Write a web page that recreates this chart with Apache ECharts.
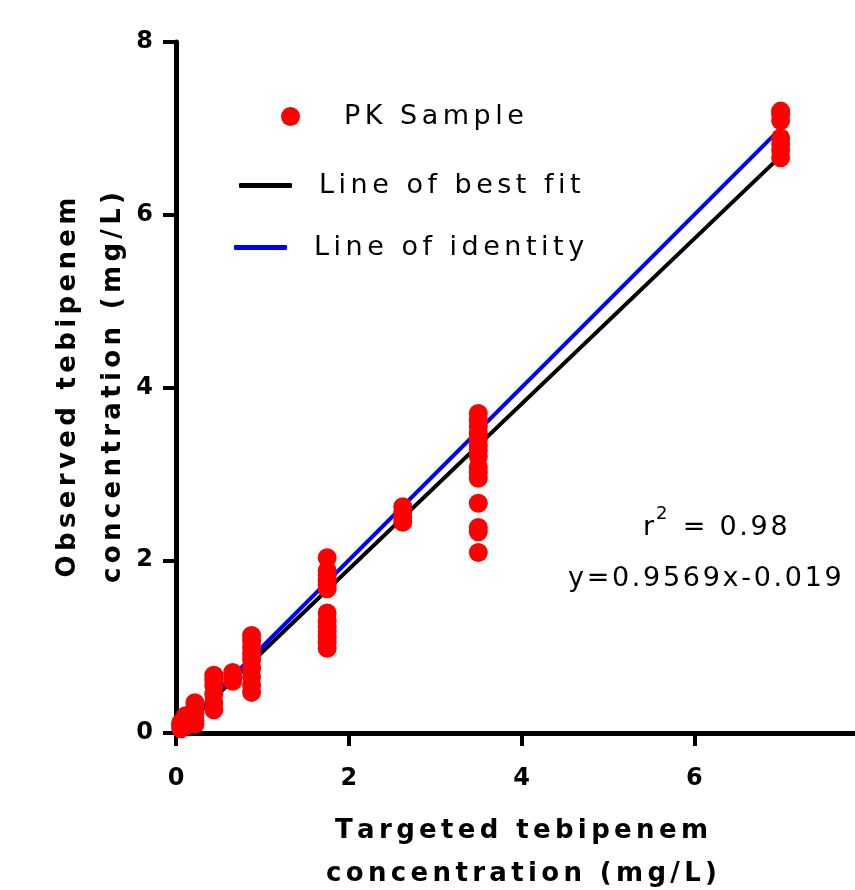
<!DOCTYPE html>
<html>
<head>
<meta charset="utf-8">
<script src="https://cdn.jsdelivr.net/npm/echarts@6/dist/echarts.min.js"></script>
<style>
html,body{margin:0;padding:0;background:#fff;}
#c{width:855px;height:890px;}
</style>
</head>
<body>
<div id="c"></div>
<script>
// ---- data ----
const targetLevels = [0.055, 0.11, 0.219, 0.4375, 0.656, 0.875, 1.75, 2.625, 3.5, 7];
const obs_0055 = [0.05, 0.08, 0.10, 0.12];
const obs_011  = [0.08, 0.12, 0.15, 0.20];
const obs_0219 = [0.10, 0.15, 0.22, 0.30, 0.35];
const obs_0438 = [0.27, 0.35, 0.45, 0.55, 0.62, 0.67];
const obs_0656 = [0.60, 0.65, 0.70];
const obs_0875 = [0.47, 0.55, 0.65, 0.75, 0.85, 0.92, 1.00, 1.07, 1.13];
const obs_175  = [0.98, 1.05, 1.11, 1.18, 1.23, 1.30, 1.39, 1.67, 1.72, 1.77, 1.83, 1.88, 2.03];
const obs_2625 = [2.44, 2.50, 2.56, 2.62];
const obs_35   = [2.09, 2.33, 2.38, 2.66, 2.95, 3.02, 3.08, 3.20, 3.27, 3.33, 3.40, 3.47, 3.55, 3.62, 3.70];
const obs_7    = [6.66, 6.75, 6.82, 6.89, 7.09, 7.16, 7.20];
const observedByLevel = [obs_0055, obs_011, obs_0219, obs_0438, obs_0656, obs_0875, obs_175, obs_2625, obs_35, obs_7];

const fitX = [0.055, 7];
const fitY = [0.034, 6.679];
const identX = [0.055, 7];
const identY = [0.055, 7];

const xTitle = ['Targeted tebipenem', 'concentration (mg/L)'];
const yTitle = ['Observed tebipenem', 'concentration (mg/L)'];
const seriesNames = ['PK Sample', 'Line of best fit', 'Line of identity'];
const r2Text = '0.98';
const eqText = 'y=0.9569x-0.019';

// ---- build ----
const G6 = '\u2006', GH = '\u200A';
const sp = (s, g) => s.split('').join(g);

const pkData = [];
targetLevels.forEach((t, i) => observedByLevel[i].forEach(v => pkData.push([t, v])));
const fitData = fitX.map((x, i) => [x, fitY[i]]);
const identData = identX.map((x, i) => [x, identY[i]]);

const FONT = '"DejaVu Sans", sans-serif';

const chart = echarts.init(document.getElementById('c'), null, {renderer: 'canvas'});
chart.setOption({
  animation: false,
  backgroundColor: '#fff',
  grid: {left: 176, top: 42, right: -12, bottom: 157, containLabel: false, outerBoundsMode: 'none'},
  xAxis: {
    type: 'value', min: 0, max: 8, interval: 2,
    name: xTitle.map(s => sp(s, G6)).join('\n'),
    nameLocation: 'middle', nameGap: 77, nameMoveOverlap: false,
    nameTextStyle: {fontFamily: FONT, fontWeight: 'bold', fontSize: 26, color: '#000', lineHeight: 43},
    axisLine: {onZero: false, lineStyle: {color: '#000', width: 5}},
    axisTick: {show: true, length: 13, lineStyle: {color: '#000', width: 4}},
    axisLabel: {margin: 34, fontFamily: FONT, fontWeight: 'bold', fontSize: 24, color: '#000'},
    splitLine: {show: false}
  },
  yAxis: {
    type: 'value', min: 0, max: 8, interval: 2,
    name: yTitle.map(s => sp(s, G6)).join('\n'),
    nameLocation: 'middle', nameGap: 40, nameMoveOverlap: false,
    nameTextStyle: {fontFamily: FONT, fontWeight: 'bold', fontSize: 26, color: '#000', lineHeight: 45},
    axisLine: {onZero: false, lineStyle: {color: '#000', width: 5}},
    axisTick: {show: true, length: 13, lineStyle: {color: '#000', width: 4}},
    axisLabel: {margin: 23, fontFamily: FONT, fontWeight: 'bold', fontSize: 24, color: '#000'},
    splitLine: {show: false}
  },
  legend: [
    {data: [seriesNames[0]], left: 281, top: 103, padding: 0, itemWidth: 19, itemHeight: 19,
     formatter: n => sp(n, G6),
     textStyle: {fontFamily: FONT, fontSize: 27, color: '#000', padding: [0, 0, 0, 39]}},
    {data: [{name: seriesNames[1], icon: 'roundRect'}], left: 239, top: 172, padding: 0, itemWidth: 53, itemHeight: 5,
     formatter: n => sp(n, G6),
     textStyle: {fontFamily: FONT, fontSize: 27, color: '#000', padding: [0, 0, 0, 22]}},
    {data: [{name: seriesNames[2], icon: 'roundRect'}], left: 234, top: 234, padding: 0, itemWidth: 53, itemHeight: 5,
     formatter: n => sp(n, G6),
     textStyle: {fontFamily: FONT, fontSize: 27, color: '#000', padding: [0, 0, 0, 22]}}
  ],
  series: [
    {name: seriesNames[1], type: 'line', data: fitData, symbol: 'none', silent: true,
     lineStyle: {color: '#000', width: 4, cap: 'round'}, itemStyle: {color: '#000'}, z: 2},
    {name: seriesNames[2], type: 'line', data: identData, symbol: 'none', silent: true,
     lineStyle: {color: '#0000ff', width: 4, cap: 'round'}, itemStyle: {color: '#0000ff'}, z: 3},
    {name: seriesNames[0], type: 'scatter', data: pkData, symbol: 'circle', symbolSize: 19,
     itemStyle: {color: '#ff0000', opacity: 1}, z: 4}
  ],
  graphic: [
    {type: 'text', left: 643, top: 505, z: 10,
     style: {text: '{b|r}{s|2}{b|' + sp(' = ' + r2Text, GH) + '}', rich: {
       b: {fontFamily: FONT, fontSize: 27, color: '#000', verticalAlign: 'bottom', lineHeight: 36},
       s: {fontFamily: FONT, fontSize: 18, color: '#000', verticalAlign: 'top', lineHeight: 36, padding: [0, 4, 14, 2]}
     }}},
    {type: 'text', left: 568, top: 565, z: 10,
     style: {text: sp(eqText, GH), fontFamily: FONT, fontSize: 27, fill: '#000'}}
  ]
});
</script>
</body>
</html>
